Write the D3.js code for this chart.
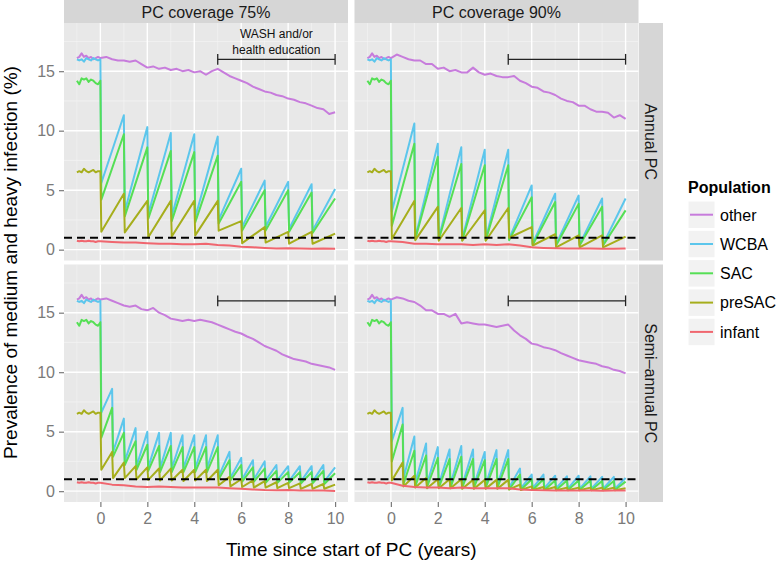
<!DOCTYPE html>
<html>
<head>
<meta charset="utf-8">
<script src="https://d3js.org/d3.v7.min.js"></script>
<style>
  body { margin: 0; background: #fff; }
  text { font-family: "Liberation Sans", Arial, Helvetica, sans-serif; }
</style>
</head>
<body>
<script>
// ---- data ----
var groups = ["other", "WCBA", "SAC", "preSAC", "infant"];
var coverageLabels = ["PC coverage 75%", "PC coverage 90%"];
var scheduleLabels = ["Annual PC", "Semi\u2013annual PC"];
var xTicks = [0, 2, 4, 6, 8, 10];
var yTicks = [0, 5, 10, 15];
var threshold = 1;
var washStart = 5, washEnd = 10, washLevel = 16;

// pre-treatment period, t = -1 .. 0 every 0.1 year (same in every panel)
var preTime = d3.range(0, 11).map(function (i) { return -1 + i / 10; });
var preOther  = [16.1, 16.2, 16.5, 16.2, 16.3, 16.1, 16.2, 16.0, 16.1, 16.2, 16.1];
var preWCBA   = [16.0, 15.9, 16.0, 15.8, 16.1, 16.0, 15.9, 16.1, 16.0, 15.9, 16.0];
var preSACv   = [14.2, 13.9, 14.4, 14.3, 14.4, 14.1, 14.3, 14.2, 14.0, 13.9, 14.2];
var prePreSAC = [6.5, 6.6, 6.5, 6.8, 6.6, 6.5, 6.6, 6.7, 6.5, 6.6, 6.6];
var preInfant = [0.75, 0.7, 0.75, 0.7, 0.7, 0.75, 0.7, 0.7, 0.65, 0.7, 0.7];

// "other" after start, every 0.25 year
var otherTime = d3.range(0, 41).map(function (i) { return i / 4; });
var other75A = [16.1, 16.2, 16.0, 15.9, 15.9, 15.8, 15.9, 15.6, 15.3, 15.4, 15.2, 15.3, 15.1, 15.2, 15.0, 15.1, 14.9, 15.0, 14.7, 15.0, 15.2,
                14.9, 14.6, 14.4, 14.2, 14.0, 13.7, 13.5, 13.3, 13.2, 13.0, 12.9, 12.7, 12.6, 12.4, 12.3, 12.1, 11.9, 11.8, 11.4, 11.55];
var other90A = [16.1, 16.4, 16.2, 16.0, 15.9, 15.9, 15.6, 15.6, 15.2, 15.3, 15.0, 15.1, 14.9, 14.9, 15.3, 14.9, 14.7, 14.8, 14.6, 14.5, 14.5,
                14.6, 14.2, 14.0, 13.7, 13.6, 13.3, 13.2, 13.0, 12.7, 12.5, 12.4, 12.1, 12.1, 11.8, 11.6, 11.6, 11.5, 11.1, 11.3, 11.0];
var other75S = [16.05, 16.2, 16.0, 15.8, 15.6, 15.5, 15.6, 15.3, 15.2, 15.4, 15.0, 14.8, 14.5, 14.4, 14.3, 14.4, 14.3, 14.4, 14.3, 14.2, 14.0,
                13.8, 13.6, 13.4, 13.25, 13.0, 12.8, 12.5, 12.2, 12.0, 11.8, 11.5, 11.3, 11.1, 11.0, 10.9, 10.7, 10.6, 10.5, 10.4, 10.2];
var other90S = [16.1, 16.3, 16.2, 16.0, 15.9, 15.6, 15.2, 15.2, 14.9, 14.9, 14.65, 14.9, 14.1, 14.2, 14.1, 14.0, 14.0, 13.9, 13.8, 13.9, 14.0,
                13.5, 13.1, 12.8, 12.4, 12.3, 12.1, 12.0, 11.85, 11.6, 11.4, 11.2, 11.0, 10.9, 10.8, 10.7, 10.5, 10.4, 10.2, 10.1, 9.9];

// infants after start, every 0.5 year
var infantTime = d3.range(0, 21).map(function (i) { return i / 2; });
var infant75A = [0.7, 0.65, 0.6, 0.6, 0.55, 0.5, 0.5, 0.45, 0.45, 0.5, 0.4, 0.35, 0.25, 0.2, 0.15, 0.1, 0.12, 0.1, 0.08, 0.1, 0.08];
var infant90A = [0.75, 0.65, 0.5, 0.5, 0.45, 0.45, 0.45, 0.4, 0.45, 0.4, 0.45, 0.35, 0.2, 0.15, 0.12, 0.1, 0.1, 0.1, 0.08, 0.08, 0.1];
var infant75S = [0.65, 0.55, 0.5, 0.4, 0.35, 0.4, 0.35, 0.3, 0.3, 0.3, 0.3, 0.25, 0.2, 0.15, 0.1, 0.08, 0.1, 0.05, 0.05, 0.05, 0.02];
var infant90S = [0.7, 0.45, 0.35, 0.3, 0.3, 0.25, 0.3, 0.25, 0.25, 0.25, 0.25, 0.15, 0.1, 0.08, 0.05, 0.05, 0.05, 0.05, 0.03, 0.05, 0.05];

// treatment rounds
var dosesAnnual = [0, 1, 2, 3, 4, 5, 6, 7, 8, 9];
var dosesSemi = [0, 0.5, 1, 1.5, 2, 2.5, 3, 3.5, 4, 4.5, 5, 5.5, 6, 6.5, 7, 7.5, 8, 8.5, 9, 9.5];

// value just after each round (trough) and just before the next one (peak)
var wcbaTrough75A = [5.6, 3.2, 3.0, 2.8, 2.7, 2.5, 1.9, 1.9, 1.75, 1.6];
var wcbaPeak75A   = [11.3, 10.3, 9.8, 9.7, 9.5, 6.8, 5.8, 5.7, 5.5, 5.1];
var sacTrough75A  = [4.2, 2.8, 2.6, 2.4, 2.3, 2.2, 1.6, 1.6, 1.5, 1.4];
var sacPeak75A    = [9.7, 8.6, 8.3, 8.2, 7.9, 5.7, 5.0, 5.0, 4.8, 4.3];
var preTrough75A  = [1.5, 1.45, 1.05, 1.1, 1.2, 1.6, 0.55, 0.6, 0.5, 0.5];
var prePeak75A    = [4.7, 4.1, 4.1, 4.1, 4.1, 2.4, 1.9, 1.5, 1.5, 1.35];

var wcbaTrough90A = [3.2, 1.0, 0.95, 0.9, 0.9, 0.9, 0.5, 0.45, 0.45, 0.45];
var wcbaPeak90A   = [10.6, 8.9, 8.6, 8.4, 8.4, 5.4, 4.7, 4.55, 4.3, 4.3];
var sacTrough90A  = [2.0, 0.9, 0.85, 0.8, 0.8, 0.8, 0.4, 0.35, 0.35, 0.35];
var sacPeak90A    = [8.9, 7.8, 7.2, 7.1, 7.1, 4.4, 4.0, 3.85, 3.6, 3.3];
var preTrough90A  = [0.9, 0.8, 0.75, 0.75, 0.75, 1.0, 0.35, 0.2, 0.2, 0.2];
var prePeak90A    = [4.1, 3.6, 3.5, 3.3, 3.5, 1.9, 1.3, 1.2, 1.2, 1.1];

var wcbaTrough75S = [6.6, 3.3, 2.5, 2.1, 2.0, 1.9, 1.9, 1.9, 1.9, 1.9, 1.25, 1.1, 1.0, 1.0, 0.9, 0.9, 0.85, 0.8, 0.8, 0.8];
var wcbaPeak75S   = [8.6, 6.1, 5.3, 5.0, 4.9, 4.9, 4.7, 4.7, 4.7, 4.7, 3.3, 2.8, 2.6, 2.5, 2.2, 2.1, 2.1, 2.1, 2.2, 2.0];
var sacTrough75S  = [4.5, 2.9, 2.2, 1.8, 1.7, 1.6, 1.6, 1.6, 1.6, 1.6, 1.0, 0.9, 0.8, 0.8, 0.7, 0.7, 0.7, 0.65, 0.65, 0.6];
var sacPeak75S    = [7.0, 4.9, 4.2, 3.9, 3.8, 3.8, 3.7, 3.7, 3.7, 3.7, 2.6, 2.2, 2.0, 1.9, 1.7, 1.6, 1.6, 1.6, 1.7, 1.5];
var preTrough75S  = [1.8, 1.1, 1.1, 1.0, 0.95, 0.9, 0.9, 0.85, 0.9, 0.85, 0.5, 0.4, 0.35, 0.3, 0.3, 0.25, 0.25, 0.2, 0.2, 0.2];
var prePeak75S    = [3.3, 2.4, 2.1, 2.0, 1.9, 1.9, 1.8, 1.8, 1.8, 1.8, 1.2, 1.0, 0.9, 0.85, 0.75, 0.7, 0.65, 0.6, 0.6, 0.55];

var wcbaTrough90S = [4.2, 1.1, 0.7, 0.6, 0.55, 0.55, 0.5, 0.5, 0.5, 0.5, 0.3, 0.25, 0.25, 0.25, 0.25, 0.2, 0.2, 0.2, 0.2, 0.2];
var wcbaPeak90S   = [7.0, 4.6, 4.0, 3.7, 3.5, 3.8, 3.5, 3.3, 3.45, 3.45, 1.9, 1.4, 1.4, 1.3, 1.25, 1.3, 1.25, 1.2, 1.2, 1.1];
var sacTrough90S  = [2.5, 0.6, 0.4, 0.35, 0.3, 0.3, 0.3, 0.3, 0.3, 0.3, 0.15, 0.12, 0.1, 0.1, 0.1, 0.1, 0.1, 0.1, 0.1, 0.1];
var sacPeak90S    = [5.6, 3.4, 3.0, 2.8, 2.7, 2.9, 2.7, 2.6, 2.7, 2.7, 1.4, 1.0, 1.0, 0.9, 0.9, 0.9, 0.9, 0.85, 0.85, 0.8];
var preTrough90S  = [0.9, 0.4, 0.3, 0.25, 0.25, 0.25, 0.2, 0.2, 0.2, 0.2, 0.15, 0.1, 0.1, 0.1, 0.08, 0.08, 0.08, 0.08, 0.08, 0.08];
var prePeak90S    = [2.4, 1.3, 1.1, 1.0, 1.0, 1.0, 0.95, 0.95, 0.95, 0.95, 0.55, 0.4, 0.35, 0.35, 0.3, 0.3, 0.3, 0.3, 0.3, 0.25];

// ---- building series ----
function joinPre(pre, time, vals) {
  var pts = pre.map(function (v, i) { return [preTime[i], v]; });
  vals.forEach(function (v, i) { if (time[i] > 0) pts.push([time[i], v]); });
  return pts;
}
function sawtooth(pre, doses, troughs, peaks) {
  var pts = pre.map(function (v, i) { return [preTime[i], v]; });
  doses.forEach(function (d, k) {
    pts.push([d + 0.04, troughs[k]]);
    pts.push([k < doses.length - 1 ? doses[k + 1] : 10, peaks[k]]);
  });
  return pts;
}
function panelSeries(other, infant, doses, wT, wP, sT, sP, pT, pP) {
  return [
    joinPre(preOther, otherTime, other),
    sawtooth(preWCBA, doses, wT, wP),
    sawtooth(preSACv, doses, sT, sP),
    sawtooth(prePreSAC, doses, pT, pP),
    joinPre(preInfant, infantTime, infant)
  ];
}

var panels = [
  { col: 0, row: 0, series: panelSeries(other75A, infant75A, dosesAnnual, wcbaTrough75A, wcbaPeak75A, sacTrough75A, sacPeak75A, preTrough75A, prePeak75A) },
  { col: 1, row: 0, series: panelSeries(other90A, infant90A, dosesAnnual, wcbaTrough90A, wcbaPeak90A, sacTrough90A, sacPeak90A, preTrough90A, prePeak90A) },
  { col: 0, row: 1, series: panelSeries(other75S, infant75S, dosesSemi, wcbaTrough75S, wcbaPeak75S, sacTrough75S, sacPeak75S, preTrough75S, prePeak75S) },
  { col: 1, row: 1, series: panelSeries(other90S, infant90S, dosesSemi, wcbaTrough90S, wcbaPeak90S, sacTrough90S, sacPeak90S, preTrough90S, prePeak90S) }
];

// ---- layout ----
var W = 778, H = 562;
var colX = [64, 354.5], panelW = 284;
var rowY = [23, 264.5], panelH = 237.5;
var stripH = 23, stripX = 639, stripW = 24;
var colours = ["#c77cdc", "#5cc6ec", "#55df55", "#a6ae1c", "#f0666f"];
var tickGrey = "#7a7a7a";

var svg = d3.select("body").append("svg").attr("width", W).attr("height", H);
svg.append("rect").attr("width", W).attr("height", H).attr("fill", "#fff");

var x = d3.scaleLinear().domain([-1.55, 10.55]).range([0, panelW]);
var y = d3.scaleLinear().domain([-0.91, 19.05]).range([panelH, 0]);
var line = d3.line().x(function (d) { return x(d[0]); }).y(function (d) { return y(d[1]); });

var xMinor = [-1, 1, 3, 5, 7, 9];
var yMinor = [2.5, 7.5, 12.5, 17.5];

panels.forEach(function (p, pi) {
  var g = svg.append("g").attr("transform", "translate(" + colX[p.col] + "," + rowY[p.row] + ")");
  g.append("rect").attr("width", panelW).attr("height", panelH).attr("fill", "#e8e8e8");

  g.selectAll(".xminor").data(xMinor).enter().append("line")
    .attr("x1", x).attr("x2", x).attr("y1", 0).attr("y2", panelH)
    .attr("stroke", "#f4f4f4").attr("stroke-width", 0.7);
  g.selectAll(".yminor").data(yMinor).enter().append("line")
    .attr("y1", y).attr("y2", y).attr("x1", 0).attr("x2", panelW)
    .attr("stroke", "#f4f4f4").attr("stroke-width", 0.7);
  g.selectAll(".xmajor").data(xTicks).enter().append("line")
    .attr("x1", x).attr("x2", x).attr("y1", 0).attr("y2", panelH)
    .attr("stroke", "#fff").attr("stroke-width", 1.4);
  g.selectAll(".ymajor").data(yTicks).enter().append("line")
    .attr("y1", y).attr("y2", y).attr("x1", 0).attr("x2", panelW)
    .attr("stroke", "#fff").attr("stroke-width", 1.4);

  p.series.forEach(function (s, si) {
    g.append("path").datum(s).attr("d", line)
      .attr("fill", "none").attr("stroke", colours[si])
      .attr("stroke-width", 2).attr("stroke-linejoin", "round");
  });

  // threshold
  g.append("line").attr("x1", 0).attr("x2", panelW).attr("y1", y(threshold)).attr("y2", y(threshold))
    .attr("stroke", "#000").attr("stroke-width", 2.2).attr("stroke-dasharray", "8,5");

  // WASH period bracket
  var bg = g.append("g").attr("stroke", "#222").attr("stroke-width", 1.3);
  bg.append("line").attr("x1", x(washStart)).attr("x2", x(washEnd)).attr("y1", y(washLevel)).attr("y2", y(washLevel));
  [washStart, washEnd].forEach(function (t) {
    bg.append("line").attr("x1", x(t)).attr("x2", x(t))
      .attr("y1", y(washLevel - 0.45)).attr("y2", y(washLevel + 0.45));
  });
  if (pi === 0) {
    var tx = g.append("text").attr("text-anchor", "middle").attr("font-size", 12).attr("fill", "#111")
      .attr("x", x((washStart + washEnd) / 2)).attr("y", y(17.5));
    tx.append("tspan").attr("x", x((washStart + washEnd) / 2)).attr("dy", -3.5).text("WASH and/or");
    tx.append("tspan").attr("x", x((washStart + washEnd) / 2)).attr("dy", 15.7).text("health education");
  }

  // axes
  if (p.col === 0) {
    var ya = d3.axisLeft(y).tickValues(yTicks).tickSize(5).tickPadding(4).tickFormat(d3.format("d"));
    var yg = g.append("g").call(ya);
    yg.select(".domain").remove();
    yg.selectAll("line").attr("stroke", tickGrey).attr("stroke-width", 1.2);
    yg.selectAll("text").attr("font-size", 16).attr("fill", tickGrey)
      .style("font-family", "'Liberation Sans', Arial, sans-serif");
  }
  if (p.row === 1) {
    var xa = d3.axisBottom(x).tickValues(xTicks).tickSize(5).tickPadding(6).tickFormat(d3.format("d"));
    var xg = g.append("g").attr("transform", "translate(0," + panelH + ")").call(xa);
    xg.select(".domain").remove();
    xg.selectAll("line").attr("stroke", tickGrey).attr("stroke-width", 1.2);
    xg.selectAll("text").attr("font-size", 16).attr("fill", tickGrey)
      .style("font-family", "'Liberation Sans', Arial, sans-serif");
  }
});

// strips
coverageLabels.forEach(function (lab, c) {
  svg.append("rect").attr("x", colX[c]).attr("y", 0).attr("width", panelW).attr("height", stripH).attr("fill", "#d6d6d6");
  svg.append("text").attr("x", colX[c] + panelW / 2).attr("y", 18).attr("text-anchor", "middle")
    .attr("font-size", 16).attr("fill", "#1a1a1a").text(lab);
});
scheduleLabels.forEach(function (lab, r) {
  svg.append("rect").attr("x", stripX).attr("y", rowY[r]).attr("width", stripW).attr("height", panelH).attr("fill", "#d6d6d6");
  var cx = stripX + stripW / 2 - 5.8, cy = rowY[r] + panelH / 2;
  svg.append("text").attr("transform", "translate(" + cx + "," + cy + ") rotate(90)")
    .attr("text-anchor", "middle").attr("font-size", 16).attr("fill", "#1a1a1a").text(lab);
});

// axis titles
svg.append("text").attr("x", (colX[0] + colX[1] + panelW) / 2).attr("y", 556)
  .attr("text-anchor", "middle").attr("font-size", 19).attr("fill", "#000")
  .text("Time since start of PC (years)");
svg.append("text").attr("transform", "translate(17," + (rowY[0] + (rowY[1] + panelH - rowY[0]) / 2) + ") rotate(-90)")
  .attr("text-anchor", "middle").attr("font-size", 19).attr("fill", "#000")
  .text("Prevalence of medium and heavy infection (%)");

// legend
var lg = svg.append("g").attr("transform", "translate(688,0)");
lg.append("text").attr("x", 0).attr("y", 192.5).attr("font-size", 16).attr("font-weight", "bold").attr("fill", "#000").text("Population");
groups.forEach(function (gname, i) {
  var top = 201 + i * 29.3;
  lg.append("rect").attr("x", 0).attr("y", top).attr("width", 27).attr("height", 27.5)
    .attr("fill", "#f2f2f2").attr("stroke", "#fff").attr("stroke-width", 1);
  lg.append("line").attr("x1", 2).attr("x2", 25).attr("y1", top + 13.7).attr("y2", top + 13.7)
    .attr("stroke", colours[i]).attr("stroke-width", 2);
  lg.append("text").attr("x", 32).attr("y", top + 19.5).attr("font-size", 16).attr("fill", "#000").text(gname);
});
</script>
</body>
</html>
